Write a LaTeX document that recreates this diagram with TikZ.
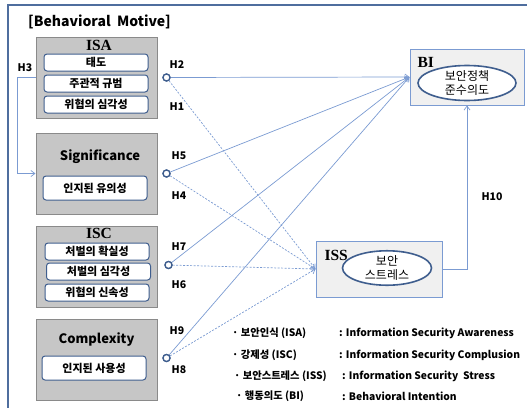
\documentclass[tikz,border=0pt]{standalone}
\usepackage{fontspec}
\setmainfont{Noto Sans CJK KR}
\newfontfamily\serifbold{Liberation Serif}
\usetikzlibrary{calc}
\usetikzlibrary{arrows.meta}
\usetikzlibrary{shapes.geometric}

\definecolor{framecol}{HTML}{4F6E9E}
\definecolor{linkcol}{HTML}{7B9BD2}
\definecolor{boxgray}{HTML}{C6C6C6}
\definecolor{boxedge}{HTML}{8A8A8A}
\definecolor{subedge}{HTML}{3F5E8E}
\definecolor{outfill}{HTML}{F0F0F0}

\begin{document}
\begin{tikzpicture}[x=1pt, y=-1pt]

    \tikzset{
        motive/.style={draw=boxedge, fill=boxgray, line width=1pt, minimum width=121pt, minimum height=81pt, inner sep=0pt},
        subbox/.style={draw=subedge, fill=white, rounded corners=3pt, line width=1pt, minimum width=104pt, minimum height=17pt, inner sep=0pt, font=\fontsize{11}{12}\selectfont\bfseries},
        outcome/.style={draw=linkcol, fill=outfill, line width=1pt, inner sep=0pt},
        oval/.style={draw=subedge, ellipse, line width=1.6pt, fill=white, inner sep=0pt, align=center, font=\fontsize{12}{13.5}\selectfont},
        hub/.style={circle, draw=subedge, fill=white, line width=1.3pt, minimum size=7pt, inner sep=0pt},
        hlabel/.style={font=\fontsize{10.5}{11}\selectfont\bfseries},
        headtxt/.style={font=\fontsize{13}{14}\selectfont\bfseries},
        serifhead/.style={font=\serifbold\fontsize{15.5}{17}\selectfont\bfseries},
        direct/.style={draw=linkcol, line width=0.7pt, -{Straight Barb[length=4pt, width=6pt]}},
        viastress/.style={draw=linkcol, line width=0.7pt, dashed, dash pattern=on 2pt off 1.5pt, -{Straight Barb[length=4pt, width=6pt]}},
        legend/.style={anchor=west, inner sep=0pt, font=\fontsize{10.3}{11}\selectfont\bfseries}
    }

    \useasboundingbox (0, 0) rectangle (527, 407);

    % frame
    \draw [framecol, line width=1.8pt] (8, 420) -- (8, 5) -- (540, 5);
    \node [font=\fontsize{14}{15}\selectfont\bfseries, anchor=west, inner sep=0pt] (title) at (28, 22) {[Behavioral\ \ Motive]};

    % motives
    \node [motive] (ISA) at (96.5, 77.5) {};
        \node [serifhead] (ISAt) at (99, 45) {ISA};
        \node [subbox] (S1) at (96, 62.5) {태도};
        \node [subbox] (S2) at (96, 83.5) {주관적 규범};
        \node [subbox] (S3) at (96, 104.5) {위협의 심각성};
    \node [motive] (SIG) at (96.5, 173.5) {};
        \node [headtxt] (SIGt) at (100, 157) {Significance};
        \node [subbox, minimum height=24pt] (S4) at (95, 188) {인지된 유의성};
    \node [motive] (ISC) at (96.5, 266.5) {};
        \node [serifhead] (ISCt) at (99, 233) {ISC};
        \node [subbox] (S5) at (97, 251.5) {처벌의 확실성};
        \node [subbox] (S6) at (98.5, 271.5) {처벌의 심각성};
        \node [subbox] (S7) at (97, 292.5) {위협의 신속성};
    \node [motive] (CPX) at (96.5, 359.5) {};
        \node [headtxt] (CPXt) at (96.5, 340) {Complexity};
        \node [subbox, minimum height=24pt] (S8) at (94, 368) {인지된 사용성};

    % outcomes
    \node [outcome, minimum width=114pt, minimum height=56pt] (BI) at (467, 77) {};
        \node [serifhead, anchor=west] (BIt) at (414, 62) {BI};
        \node [oval, minimum width=98pt, minimum height=35pt] (BIo) at (467, 83) {보안정책\\준수의도};
    \node [outcome, minimum width=126pt, minimum height=56pt] (ISS) at (379, 269) {};
        \node [serifhead, anchor=west] (ISSt) at (321, 255) {ISS};
        \node [oval, minimum width=89pt, minimum height=31pt] (ISSo) at (387, 268) {보안\\스트레스};

    % hubs
    \node [hub] (C1) at ($(ISA.east) + (9, 0)$) {};
    \node [hub] (C2) at ($(SIG.east) + (9, 0)$) {};
    \node [hub] (C3) at ($(ISC.east) + (11, -1.5)$) {};
    \node [hub] (C4) at ($(CPX.east) + (9, -1.5)$) {};

    % paths
    \draw [direct] (ISA.west) -- ++(-18, 0) |- (SIG.west);
    \draw [viastress] (C1) -- (ISS.west);
    \draw [viastress] (C2) -- (ISS.west);
    \draw [viastress] (C3) -- (ISS.west);
    \draw [viastress] (C4) -- (ISS.west);
    \draw [direct] (C1) -- (BI.west);
    \draw [direct] (C2) -- (BI.west);
    \draw [direct] (C3) -- (BI.west);
    \draw [direct] (C4) -- (BI.west);
    \draw [direct] (ISS.east) -| (BI.south);
    \node [hub] at (C1) {};
    \node [hub] at (C2) {};
    \node [hub] at (C3) {};
    \node [hub] at (C4) {};

    % hypothesis labels
    \node [hlabel] (H1) at (177, 107) {H1};
    \node [hlabel] (H2) at (177, 65) {H2};
    \node [hlabel] (H3) at (25, 68) {H3};
    \node [hlabel] (H4) at (179, 196) {H4};
    \node [hlabel] (H5) at (179, 156) {H5};
    \node [hlabel] (H6) at (179, 285) {H6};
    \node [hlabel] (H7) at (179, 247) {H7};
    \node [hlabel] (H8) at (179, 370) {H8};
    \node [hlabel] (H9) at (177, 331) {H9};
    \node [hlabel] (H10) at (492, 197) {H10};

    % legend
    \node [legend] (L1) at (232, 333) {· 보안인식 (ISA)};
        \node [legend] (L1d) at (339, 333) {: Information Security Awareness};
    \node [legend] (L2) at (232, 355) {· 강제성 (ISC)};
        \node [legend] (L2d) at (339, 355) {: Information Security Complusion};
    \node [legend] (L3) at (234, 376) {· 보안스트레스 (ISS)};
        \node [legend] (L3d) at (342, 376) {: Information Security\ \ Stress};
    \node [legend] (L4) at (236, 396) {· 행동의도 (BI)};
        \node [legend] (L4d) at (342, 396) {: Behavioral Intention};

\end{tikzpicture}
\end{document}
